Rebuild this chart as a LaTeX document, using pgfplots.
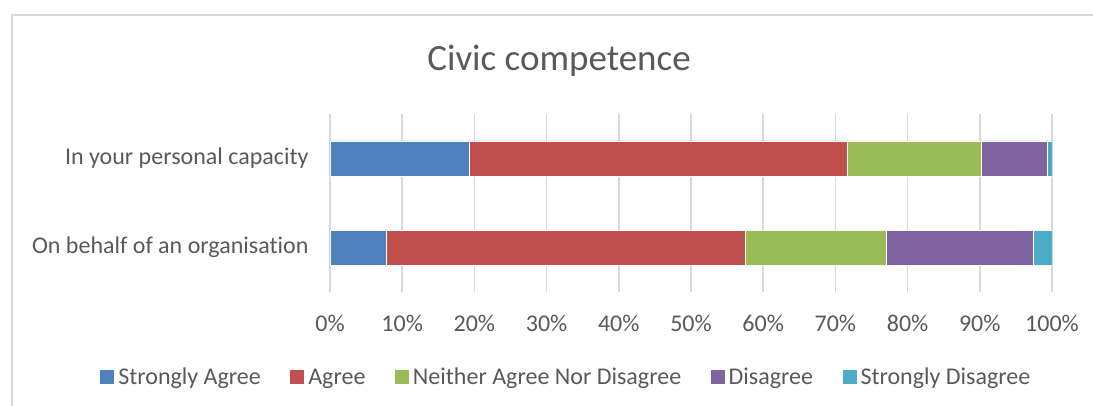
\documentclass[border=0pt]{standalone}
\usepackage{fontspec}
\setmainfont{Carlito}[Ligatures=NoCommon]
\usepackage{pgfplots}
\pgfplotsset{compat=1.18}
\definecolor{cBlue}{HTML}{4F81BD}
\definecolor{cRed}{HTML}{C0504D}
\definecolor{cGreen}{HTML}{9BBB59}
\definecolor{cPurple}{HTML}{8064A2}
\definecolor{cCyan}{HTML}{4BACC6}
\definecolor{txt}{HTML}{595959}
\definecolor{gridc}{HTML}{D9D9D9}
\begin{document}
\begin{tikzpicture}
\useasboundingbox (0pt,0pt) rectangle (1093pt,405pt);
\draw[gridc, line width=2pt] (12pt,-10pt) -- (12pt,390pt) -- (1110pt,390pt);
\node[text=txt, font=\fontsize{37}{44}\selectfont, anchor=base] at (559pt,334pt) {Civic competence};
\begin{axis}[
  at={(330pt,113pt)}, anchor=south west,
  scale only axis, width=722pt, height=178pt,
  xbar stacked, bar width=35pt,
  xmin=0, xmax=100, ymin=-0.5, ymax=1.5,
  ytick={0,1},
  yticklabels={On behalf of an organisation, In your personal capacity},
  xtick={0,10,...,100},
  xticklabel={\pgfmathprintnumber{\tick}\%},
  /pgf/number format/assume math mode=true,
  xmajorgrids, grid style={gridc, line width=1.5pt},
  axis line style={draw=none},
  major tick length=0pt,
  tick label style={text=txt, font=\fontsize{24}{28}\selectfont},
  xticklabel style={yshift=-20pt},
  yticklabel style={xshift=-18pt},
  legend style={at={(0.327,-0.478)}, anchor=center, draw=none, fill=none,
    legend columns=5, font=\fontsize{24}{28}\selectfont, text=txt,
    /tikz/every odd column/.append style={column sep=2.5pt},
    /tikz/every even column/.append style={column sep=28pt},
    nodes={inner sep=1.5pt}},
  legend image code/.code={\fill[#1,draw=none] (0pt,-7pt) rectangle (14pt,7pt);},
]
\addplot[fill=cBlue, draw=white, line width=0.4pt] coordinates {(7.8,0) (19.3,1)};
\addplot[fill=cRed, draw=white, line width=0.4pt] coordinates {(49.7,0) (52.3,1)};
\addplot[fill=cGreen, draw=white, line width=0.4pt] coordinates {(19.5,0) (18.6,1)};
\addplot[fill=cPurple, draw=white, line width=0.4pt] coordinates {(20.4,0) (9.2,1)};
\addplot[fill=cCyan, draw=white, line width=0.4pt] coordinates {(2.6,0) (0.6,1)};
\legend{Strongly Agree, Agree, Neither Agree Nor Disagree, Disagree, Strongly Disagree}
\end{axis}
\end{tikzpicture}
\end{document}
